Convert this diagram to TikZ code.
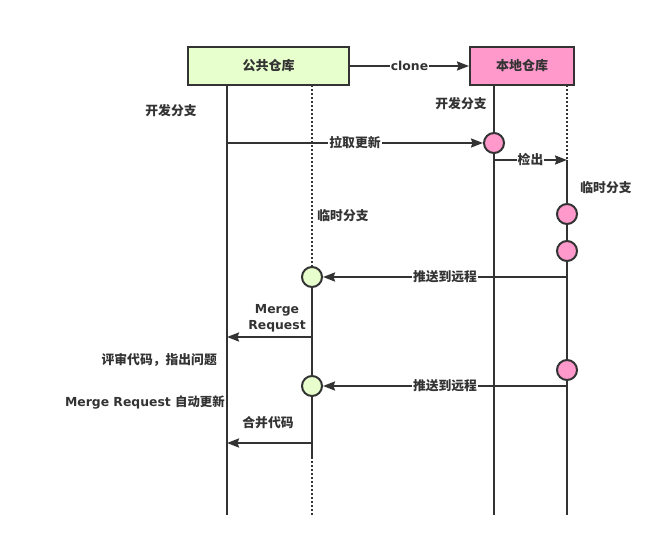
\documentclass[tikz,border=0pt]{standalone}
\usepackage{fontspec}
\setmainfont{DejaVu Sans}
\newfontfamily\cjk{Noto Sans CJK SC}
\usetikzlibrary{arrows.meta}
\definecolor{ink}{HTML}{333333}
\definecolor{gfill}{HTML}{E6FFCC}
\definecolor{pfill}{HTML}{FF99CC}
\begin{document}
\begin{tikzpicture}[x=1pt,y=-1pt,
  repo/.style={draw=ink, line width=2pt, minimum height=38pt, inner sep=0pt,
    font=\cjk\bfseries\fontsize{13}{15}\selectfont, text=ink},
  life/.style={draw=ink, line width=2pt},
  dots/.style={draw=ink, line width=2pt, dash pattern=on 2pt off 2pt},
  msg/.style={draw=ink, line width=2pt, -{Stealth[length=12pt,width=9pt,inset=1.5pt]}},
  evt/.style={circle, draw=ink, line width=2pt, minimum size=20pt, inner sep=0pt},
  lbl/.style={font=\cjk\bfseries\fontsize{12.8}{15}\selectfont, text=ink, inner sep=1pt},
  lbll/.style={font=\bfseries\fontsize{12.4}{16}\selectfont, text=ink, inner sep=1pt},
  onl/.style={lbl, fill=white},
  onll/.style={lbll, fill=white},
]
\useasboundingbox (0,0) rectangle (670,549);
\fill[white] (0,0) rectangle (670,549);

% repositories
\node[repo, fill=gfill, minimum width=161pt] (pub) at (268.5,66) {公共仓库};
\node[repo, fill=pfill, minimum width=104pt] (loc) at (522,66) {本地仓库};

% lifeline coordinates
\coordinate (p1top) at (227,85);  \coordinate (p1bot) at (227,515);
\coordinate (p2top) at (312,85);  \coordinate (p2bot) at (312,515);
\coordinate (p2end) at (312,457);
\coordinate (l1top) at (494,85);  \coordinate (l1bot) at (494,515);
\coordinate (l2top) at (567,85);  \coordinate (l2bot) at (567,515);
\coordinate (l2act) at (567,160);

% event circles (positions)
\path (494,143) coordinate (c1pos)
      (567,214) coordinate (c2pos)
      (567,251) coordinate (c3pos)
      (312,277) coordinate (g1pos)
      (567,370) coordinate (c4pos)
      (312,386) coordinate (g2pos);

% lifelines
\draw[life] (p1top) -- (p1bot);
\draw[dots] (p2top) -- (g1pos);
\draw[life] (g1pos) -- (p2end);
\draw[dots] (p2end) -- (p2bot);
\draw[life] (l1top) -- (l1bot);
\draw[dots] (l2top) -- (l2act);
\draw[life] (l2act) -- (l2bot);

% circles
\node[evt, fill=pfill] (c1) at (c1pos) {};
\node[evt, fill=pfill] (c2) at (c2pos) {};
\node[evt, fill=pfill] (c3) at (c3pos) {};
\node[evt, fill=gfill] (g1) at (g1pos) {};
\node[evt, fill=pfill] (c4) at (c4pos) {};
\node[evt, fill=gfill] (g2) at (g2pos) {};

% messages
\draw[msg] (pub.east) -- (loc.west) node[onll, midway] {clone};

\coordinate (a1) at (227,143);
\draw[msg] (a1) -- (c1.west) node[onl, midway] {拉取更新};

\coordinate (k0) at (494,160);
\draw[msg] (k0) -- (l2act) node[onl, midway] {检出};

\coordinate (s1) at (567,277);
\draw[msg] (s1) -- (g1.east) node[onl, midway] {推送到远程};

\coordinate (m0) at (312,337);
\coordinate (m1) at (227,337);
\draw[msg] (m0) -- (m1);

\coordinate (s2) at (567,386);
\draw[msg] (s2) -- (g2.east) node[onl, midway] {推送到远程};

\coordinate (h0) at (312,443);
\coordinate (h1) at (227,443);
\draw[msg] (h0) -- (h1);

% free labels
\node[lbl] (t1) at (171,111) {开发分支};
\node[lbl] (t2) at (461,104) {开发分支};
\node[lbl] (t3) at (606,188) {临时分支};
\node[lbl] (t4) at (343,216) {临时分支};
\node[lbll, align=center] (t5) at (277,318) {Merge\\Request};
\node[lbl, anchor=east] (t6) at (218,360) {评审代码，指出问题};
\node[lbll, anchor=east] (t7) at (226,402) {Merge Request {\cjk 自动更新}};
\node[lbl] (t8) at (268,423) {合并代码};
\end{tikzpicture}
\end{document}
